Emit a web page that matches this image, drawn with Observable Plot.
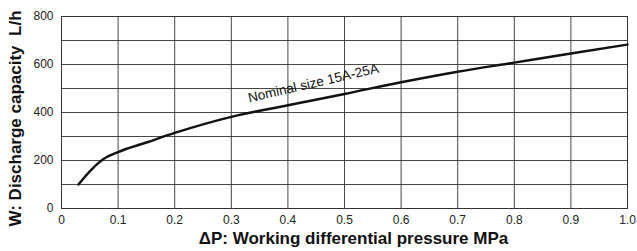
<!DOCTYPE html>
<html>
<head>
<meta charset="utf-8">
<script src="https://cdn.jsdelivr.net/npm/d3@7"></script>
<script src="https://cdn.jsdelivr.net/npm/@observablehq/plot@0.6"></script>
<style>
  html, body { margin: 0; padding: 0; background: #fff; }
  svg { display: block; }
</style>
</head>
<body>
<div id="chart"></div>
<script>
const pressure = [0.03, 0.05, 0.075, 0.1, 0.15, 0.2, 0.3, 0.4, 0.5, 0.6, 0.7, 0.8, 0.9, 1.0];
const capacity = [100, 155, 207, 235, 275, 315, 382, 430, 477, 526, 570, 608, 646, 683];
const xTicks = [0, 0.1, 0.2, 0.3, 0.4, 0.5, 0.6, 0.7, 0.8, 0.9, 1.0];
const xTickLabels = ["0", "0.1", "0.2", "0.3", "0.4", "0.5", "0.6", "0.7", "0.8", "0.9", "1.0"];
const yGrid = [0, 100, 200, 300, 400, 500, 600, 700, 800];
const yTicks = [0, 200, 400, 600, 800];
const xLabel = "ΔP: Working differential pressure MPa";
const yLabel = "W: Discharge capacity  L/h";
const seriesLabel = ["Nominal size 15A-25A"];
const labelPos = [{x: 0.445, y: 468}];

const data = pressure.map((p, i) => ({p, w: capacity[i]}));
const font = "'Liberation Sans', Arial, sans-serif";

const chart = Plot.plot({
  width: 637,
  height: 251,
  marginLeft: 61,
  marginRight: 10,
  marginTop: 16,
  marginBottom: 43,
  style: {fontFamily: font, fontSize: "12px", color: "#222", background: "#fff"},
  x: {domain: [0, 1], ticks: xTicks, tickFormat: (d, i) => xTickLabels[i], tickSize: 0, tickPadding: 7, label: null},
  y: {domain: [0, 800], ticks: yTicks, tickSize: 0, tickPadding: 8, label: null},
  marks: [
    Plot.gridX(xTicks, {stroke: "#333", strokeOpacity: 0.9, strokeWidth: 1}),
    Plot.gridY(yGrid, {stroke: "#333", strokeOpacity: 0.9, strokeWidth: 1}),
    Plot.frame({stroke: "#333", strokeWidth: 1}),
    Plot.line(data, {x: "p", y: "w", stroke: "#111", strokeWidth: 2.4, curve: "monotone-x"}),
    Plot.text(seriesLabel, {x: () => labelPos[0].x, y: () => labelPos[0].y, text: d => d, rotate: -13, fontSize: 13.5, fill: "#111", dy: -13}),
    Plot.text([xLabel], {frameAnchor: "bottom", text: d => d, textAnchor: "middle", dy: 35, dx: 9, fontSize: 17, fontWeight: "bold", fill: "#111"}),
    Plot.text([yLabel], {frameAnchor: "left", text: d => d, textAnchor: "middle", rotate: -90, dx: -46, dy: 6, fontSize: 17, fontWeight: "bold", fill: "#111"})
  ]
});
document.getElementById("chart").appendChild(chart);
</script>
</body>
</html>
